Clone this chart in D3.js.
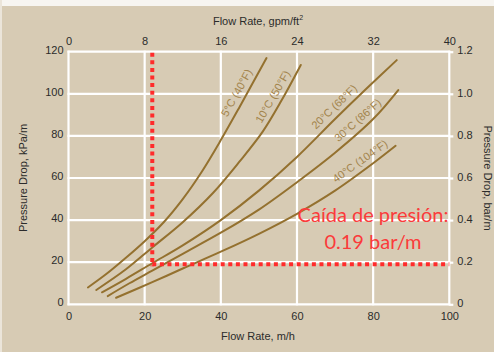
<!DOCTYPE html>
<html>
<head>
<meta charset="utf-8">
<script src="https://cdn.jsdelivr.net/npm/d3@7"></script>
<style>
  html, body { margin: 0; padding: 0; background: #ffffff; }
  svg { display: block; }
  .tick text { font-family: "Liberation Sans", Arial, sans-serif; font-size: 11px; fill: #2b2b2b; }
</style>
</head>
<body>
<svg id="chart" width="494" height="352"></svg>
<script>
// Axis ticks
const flowTicks = [0, 20, 40, 60, 80, 100];          // m/h
const gpmTicks = [0, 8, 16, 24, 32, 40];             // gpm/ft²
const kpaTicks = [0, 20, 40, 60, 80, 100, 120];      // kPa/m
const barTicks = [0, 0.2, 0.4, 0.6, 0.8, 1.0, 1.2];  // bar/m

// Pressure-drop curves by water temperature (flow m/h, drop kPa/m)
const tempLabels = ["5°C (40°F)", "10°C (50°F)", "20°C (68°F)", "30°C (86°F)", "40°C (104°F)"];
const flow5C  = [5.1, 10, 15, 20, 25, 30, 35, 40, 45, 52];
const drop5C  = [8, 14.5, 22, 30, 39, 50, 63, 78, 94, 117];
const flow10C = [7.3, 15, 22, 30, 38, 45, 51, 56, 61];
const drop10C = [6.8, 16.5, 27, 39, 53, 68, 82, 97, 113.7];
const flow20C = [8.8, 15, 22, 30, 40, 50, 60, 70, 78, 86.2];
const drop20C = [5.7, 12, 19.5, 28, 40, 54, 70, 88, 102, 116];
const flow30C = [10.3, 16, 22, 30, 40, 50, 60, 70, 80, 86.6];
const drop30C = [3.9, 10, 16, 24, 34, 45, 58, 72, 88, 101.8];
const flow40C = [12.5, 22, 30, 40, 50, 60, 70, 80, 85.9];
const drop40C = [3.1, 10.5, 17, 25, 33.5, 43, 54, 67, 75.3];
// Flow at which each curve label sits
const labelFlows = [46.3, 55.8, 71.5, 77.6, 78];

// Operating point marked by the dotted guide lines
const opFlow = 22;      // m/h
const opDrop = 19;      // kPa/m  (0.19 bar/m)
const opText = ["Caída de presión:", "0.19 bar/m"];

const flows = [flow5C, flow10C, flow20C, flow30C, flow40C];
const drops = [drop5C, drop10C, drop20C, drop30C, drop40C];
const series = tempLabels.map((name, i) => ({
  name,
  labelFlow: labelFlows[i],
  points: flows[i].map((f, j) => ({ flow: f, drop: drops[i][j] }))
}));

const svg = d3.select("#chart");
const W = 494, H = 352;

// Background panel
svg.append("rect").attr("width", W).attr("height", H).attr("fill", "#d7cbb4");
svg.append("rect").attr("width", W).attr("height", 6).attr("fill", "#f7f5f1");
svg.append("rect").attr("width", 2).attr("height", H).attr("fill", "#ebe5da");

// Scales
const x = d3.scaleLinear().domain([0, 100]).range([68.5, 449.3]);
const xTop = d3.scaleLinear().domain([0, 40]).range(x.range());
const y = d3.scaleLinear().domain([0, 120]).range([304.3, 51.7]);
const yBar = d3.scaleLinear().domain([0, 1.2]).range(y.range());

// Grid
const grid = svg.append("g").attr("stroke", "#ffffff").attr("stroke-width", 2.2);
grid.selectAll("line.v").data(flowTicks).join("line")
  .attr("class", "v")
  .attr("x1", d => x(d)).attr("x2", d => x(d))
  .attr("y1", y(120) - 1).attr("y2", y(0) + 1);
grid.selectAll("line.h").data(kpaTicks).join("line")
  .attr("class", "h")
  .attr("x1", x(0) - 1).attr("x2", x(100) + 1)
  .attr("y1", d => y(d)).attr("y2", d => y(d));

// Axes (labels only; right axis keeps short ticks)
const styleAxis = g => {
  g.select(".domain").remove();
  g.selectAll(".tick line").attr("stroke", "#ffffff").attr("stroke-width", 2.2);
};
svg.append("g").attr("transform", `translate(0,${y(0)})`)
  .call(d3.axisBottom(x).tickValues(flowTicks).tickSize(0).tickPadding(8).tickFormat(d3.format("d")))
  .call(styleAxis);
svg.append("g").attr("transform", `translate(0,${y(120)})`)
  .call(d3.axisTop(xTop).tickValues(gpmTicks).tickSize(0).tickPadding(7).tickFormat(d3.format("d")))
  .call(styleAxis);
svg.append("g").attr("transform", `translate(${x(0)},0)`)
  .call(d3.axisLeft(y).tickValues(kpaTicks).tickSize(0).tickPadding(5).tickFormat(d3.format("d")))
  .call(styleAxis)
  .selectAll("text").attr("dy", "0.12em");
svg.append("g").attr("transform", `translate(${x(100)},0)`)
  .call(d3.axisRight(yBar).tickValues(barTicks).tickSize(4).tickPadding(4)
    .tickFormat(d => d === 0 ? "0" : d3.format(".1f")(d)))
  .call(styleAxis)
  .selectAll("text").attr("dy", "0.2em");

// Axis titles
const titleFont = "'Liberation Sans', Arial, sans-serif";
const topTitle = svg.append("text")
  .attr("x", 258).attr("y", 25).attr("text-anchor", "middle")
  .attr("font-family", titleFont).attr("font-size", 11).attr("fill", "#2b2b2b")
  .text("Flow Rate, gpm/ft");
topTitle.append("tspan").attr("font-size", 7).attr("dy", -5).text("2");
svg.append("text")
  .attr("x", 258).attr("y", 340).attr("text-anchor", "middle")
  .attr("font-family", titleFont).attr("font-size", 11).attr("fill", "#2b2b2b")
  .text("Flow Rate, m/h");
svg.append("text")
  .attr("transform", `translate(27,${(y(0) + y(120)) / 2}) rotate(-90)`)
  .attr("text-anchor", "middle")
  .attr("font-family", titleFont).attr("font-size", 11).attr("fill", "#2b2b2b")
  .text("Pressure Drop, kPa/m");
svg.append("text")
  .attr("transform", `translate(483.5,${(y(0) + y(120)) / 2}) rotate(90)`)
  .attr("text-anchor", "middle")
  .attr("font-family", titleFont).attr("font-size", 11).attr("fill", "#2b2b2b")
  .text("Pressure Drop, bar/m");

// Temperature curves
const curveColor = "#94712f";
const line = d3.line()
  .x(d => x(d.flow)).y(d => y(d.drop))
  .curve(d3.curveCatmullRom.alpha(0.5));
svg.append("g").selectAll("path").data(series).join("path")
  .attr("d", d => line(d.points))
  .attr("fill", "none")
  .attr("stroke", curveColor)
  .attr("stroke-width", 2)
  .attr("stroke-linecap", "round");

// Curve labels, rotated along the local slope and lifted off the line
series.forEach(s => {
  const dropAt = d3.scaleLinear().domain(s.points.map(p => p.flow)).range(s.points.map(p => p.drop));
  const f = s.labelFlow;
  const px = x(f), py = y(dropAt(f));
  const dx = x(f + 2) - x(f - 2), dy = y(dropAt(f + 2)) - y(dropAt(f - 2));
  const ang = Math.atan2(dy, dx);
  const off = 9.5;
  const cx = px + Math.sin(ang) * off, cy = py - Math.cos(ang) * off;
  svg.append("text")
    .attr("transform", `translate(${cx},${cy}) rotate(${ang * 180 / Math.PI})`)
    .attr("text-anchor", "middle")
    .attr("dy", "0.35em")
    .attr("font-family", titleFont).attr("font-size", 11)
    .attr("fill", "#a3844c")
    .text(s.name);
});

// Dotted guide lines to the operating point
const red = "#ff2b2b";
const guide = svg.append("g").attr("stroke", red).attr("stroke-width", 4)
  .attr("stroke-dasharray", "4,3.6").attr("fill", "none");
guide.append("line")
  .attr("x1", x(opFlow)).attr("x2", x(opFlow))
  .attr("y1", y(120) + 1).attr("y2", y(opDrop) + 2);
guide.append("line")
  .attr("x1", x(opFlow)).attr("x2", x(100))
  .attr("y1", y(opDrop)).attr("y2", y(opDrop));

// Operating point annotation
const note = svg.append("text")
  .attr("text-anchor", "middle")
  .attr("font-family", "Lato, 'Open Sans', sans-serif")
  .attr("font-size", 20)
  .attr("fill", "#fb3b3b");
note.append("tspan").attr("x", 373).attr("y", 222).text(opText[0]);
note.append("tspan").attr("x", 373).attr("y", 249).text(opText[1]);
</script>
</body>
</html>
